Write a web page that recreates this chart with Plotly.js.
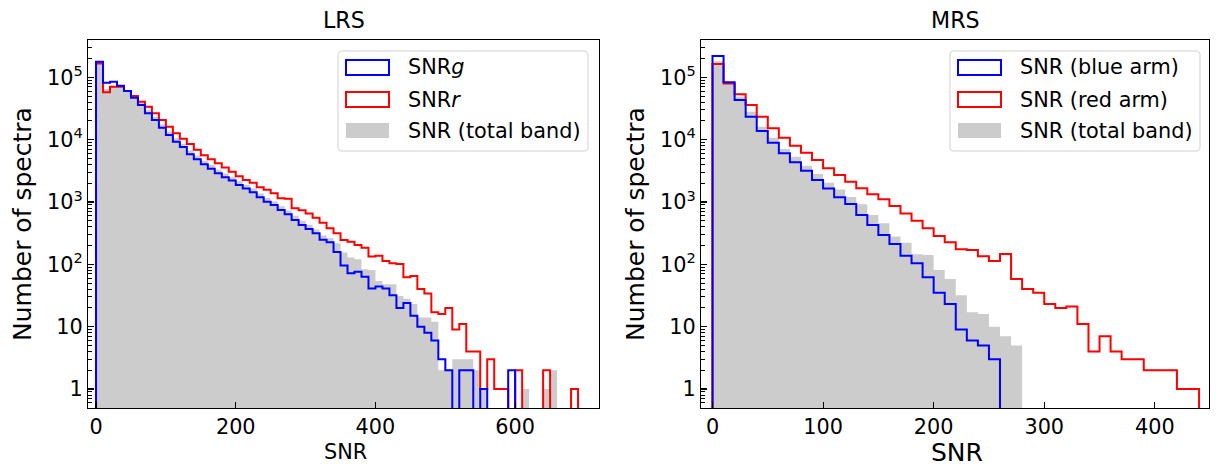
<!DOCTYPE html>
<html>
<head>
<meta charset="utf-8">
<script src="https://cdn.plot.ly/plotly-3.0.1.min.js"></script>
<style>html,body{margin:0;padding:0;background:#fff;}#chart{width:1217px;height:468px;}</style>
</head>
<body>
<div id="chart"></div>
<script>
// ---------- data (counts per 10-SNR bin, starting at SNR = 0) ----------
const binWidth = 10;
const lrsG = [178000, 81900, 84900, 73300, 60200, 47100, 35900, 26400, 20600, 15500,
  11860, 9270, 7600, 5840, 4860, 4030, 3420, 2900, 2500, 2200,
  1870, 1650, 1435, 1195, 1010, 893, 743, 637, 516, 427,
  370, 314, 248, 226, 157, 96, 72, 76, 63, 41,
  44, 41, 32, 20, 24, 15, 10, 8, 6, 3,
  2, 0, 2, 2, 0, 1, 0, 0, 0, 2];
const lrsR = [167000, 57300, 70600, 70600, 60200, 50000, 40600, 33700, 26400, 20600,
  16100, 12600, 10300, 8500, 6900, 5600, 4830, 4160, 3560, 3060,
  2580, 2250, 2030, 1720, 1570, 1375, 1143, 1130, 790, 735,
  656, 556, 466, 380, 314, 245, 231, 204, 185, 133,
  137, 113, 104, 101, 62, 65, 40, 34, 17, 16,
  20, 9, 11, 4, 4, 1, 3, 1, 1, 0,
  2, 0, 0, 0, 2, 0, 0, 0, 1];
const lrsTotal = [165000, 65000, 72000, 72000, 62000, 49000, 38500, 29500, 23000, 17500,
  13500, 10500, 8600, 6700, 5500, 4600, 3900, 3300, 2850, 2500,
  2150, 1880, 1640, 1370, 1160, 1020, 850, 730, 600, 500,
  430, 360, 290, 262, 217, 154, 129, 120, 83, 81,
  54, 48, 48, 31, 28, 23, 14, 14, 12, 2,
  2, 3, 3, 3, 2, 1, 0, 0, 0, 0,
  0, 1, 0, 0, 1, 2];
const mrsBlue = [219000, 82900, 43200, 23300, 13700, 8930, 6020, 4320, 3170, 2250,
  1650, 1186, 927, 618, 427, 295, 212, 137, 104, 62,
  35, 23, 9, 6, 5, 3];
const mrsRed = [163000, 79800, 53200, 35900, 23300, 15200, 10700, 8000, 6170, 4710,
  3460, 2710, 2115, 1653, 1325, 1102, 861, 656, 501, 378,
  284, 225, 174, 170, 135, 113, 146, 58, 40, 35,
  23, 20, 21, 11, 4, 7, 4, 3, 3, 2,
  2, 2, 1, 1];
const mrsTotal = [180000, 79000, 48800, 28000, 16100, 10700, 7070, 5320, 3820, 2810,
  2040, 1590, 1200, 916, 618, 454, 280, 222, 145, 141,
  81, 58, 32, 17, 16, 10, 7, 5];

const lrsTicks = [0, 200, 400, 600];
const mrsTicks = [0, 100, 200, 300, 400];
const yTickVals = [1, 10, 100, 1000, 10000, 100000];
const yTickText = ['1', '10', '10<sup>2</sup>', '10<sup>3</sup>', '10<sup>4</sup>', '10<sup>5</sup>'];
const lrsLabels = ['SNR<i>g</i>', 'SNR<i>r</i>', 'SNR (total band)'];
const mrsLabels = ['SNR (blue arm)', 'SNR (red arm)', 'SNR (total band)'];

// ---------- helpers ----------
const FLOOR = 0.1; // empty bins drop below the visible log range
function stepXY(counts) {
  const x = [0], y = [FLOOR];
  counts.forEach((c, i) => { x.push(i * binWidth); y.push(c > 0 ? c : FLOOR); });
  x.push(counts.length * binWidth); y.push(FLOOR);
  return {x, y};
}
function fillTrace(counts, xa, ya) {
  const s = stepXY(counts);
  return {x: s.x, y: s.y, xaxis: xa, yaxis: ya, type: 'scatter', mode: 'lines',
    line: {shape: 'hv', width: 0, color: '#cccccc'}, fill: 'toself', fillcolor: '#cccccc',
    hoverinfo: 'skip', showlegend: false};
}
function stepTrace(counts, color, xa, ya) {
  const s = stepXY(counts);
  return {x: s.x, y: s.y, xaxis: xa, yaxis: ya, type: 'scatter', mode: 'lines',
    line: {shape: 'hv', width: 2, color: color}, hoverinfo: 'skip', showlegend: false};
}

const data = [
  fillTrace(lrsTotal, 'x', 'y'),
  stepTrace(lrsR, '#ff0000', 'x', 'y'),
  stepTrace(lrsG, '#0000ff', 'x', 'y'),
  fillTrace(mrsTotal, 'x2', 'y2'),
  stepTrace(mrsRed, '#ff0000', 'x2', 'y2'),
  stepTrace(mrsBlue, '#0000ff', 'x2', 'y2')
];

// pixel -> paper conversion (plot area spans x 88..1209, y 40..408)
const L = 88, W = 1121, T = 40, H = 368;
const px = X => (X - L) / W;
const py = Y => (T + H - Y) / H;
const P = (X, Y) => px(X).toFixed(5) + ',' + py(Y).toFixed(5);

function roundBox(x0, y0, x1, y1, r) {
  const d = 'M' + P(x0 + r, y0) + ' L' + P(x1 - r, y0) + ' Q' + P(x1, y0) + ' ' + P(x1, y0 + r) +
    ' L' + P(x1, y1 - r) + ' Q' + P(x1, y1) + ' ' + P(x1 - r, y1) +
    ' L' + P(x0 + r, y1) + ' Q' + P(x0, y1) + ' ' + P(x0, y1 - r) +
    ' L' + P(x0, y0 + r) + ' Q' + P(x0, y0) + ' ' + P(x0 + r, y0) + ' Z';
  return {type: 'path', xref: 'paper', yref: 'paper', path: d, layer: 'above',
    fillcolor: 'rgba(255,255,255,0.8)', line: {color: '#d0d0d0', width: 1}};
}
function rectPx(x0, y0, x1, y1, lineColor, fill) {
  return {type: 'rect', xref: 'paper', yref: 'paper', layer: 'above',
    x0: px(x0), x1: px(x1), y0: py(y1), y1: py(y0),
    fillcolor: fill, line: {color: lineColor, width: lineColor ? 2 : 0}};
}
const shapes = [], annotations = [];
function legend(bx, labels) {
  shapes.push(roundBox(bx, 51, bx + 250, 151, 4));
  const rowsY = [67.5, 99.5, 130.5];
  shapes.push(rectPx(bx + 8, rowsY[0] - 7.5, bx + 51, rowsY[0] + 7.5, '#0000ff', 'rgba(0,0,0,0)'));
  shapes.push(rectPx(bx + 8, rowsY[1] - 7.5, bx + 51, rowsY[1] + 7.5, '#ff0000', 'rgba(0,0,0,0)'));
  shapes.push(rectPx(bx + 8, rowsY[2] - 7.5, bx + 51, rowsY[2] + 7.5, null, '#cccccc'));
  labels.forEach((t, i) => annotations.push({text: t, xref: 'paper', yref: 'paper',
    x: px(bx + 68), y: py(rowsY[i]), xanchor: 'left', yanchor: 'middle', showarrow: false,
    font: {size: 20.8, color: '#000'}}));
}
legend(338, lrsLabels);
legend(950, mrsLabels);

function label(text, X, Y, size, angle) {
  annotations.push({text: text, xref: 'paper', yref: 'paper', x: px(X), y: py(Y),
    xanchor: 'center', yanchor: 'middle', showarrow: false, textangle: angle || 0,
    font: {size: size, color: '#000'}});
}
label('LRS', 343.5, 20, 22.2);
label('MRS', 955, 20, 22.2);
label('Number of spectra', 22, 224, 25, -90);
label('Number of spectra', 635, 224, 25, -90);
label('SNR', 345, 452, 20.8);
label('SNR', 957, 452, 25);

const minorVals = [];
for (let e = -1; e <= 6; e++) for (let m = 2; m <= 9; m++) minorVals.push(m * Math.pow(10, e));

const common = {showline: true, mirror: true, linecolor: '#000', linewidth: 1.1,
  ticks: 'inside', ticklen: 6, tickwidth: 1.1, tickcolor: '#000', showgrid: false,
  zeroline: false, tickfont: {size: 20.8, color: '#000'}};
function yaxis(anchor) {
  return Object.assign({}, common, {type: 'log', range: [-0.305, 5.598], anchor: anchor,
    tickmode: 'array', tickvals: yTickVals, ticktext: yTickText,
    minor: {tickmode: 'array', tickvals: minorVals, ticks: 'inside', ticklen: 3.5,
      tickwidth: 1, tickcolor: '#000', showgrid: false}});
}

const layout = {
  width: 1217, height: 468,
  margin: {l: L, r: 1217 - L - W, t: T, b: 468 - T - H, pad: 0},
  paper_bgcolor: '#fff', plot_bgcolor: '#fff',
  font: {family: 'DejaVu Sans, sans-serif', size: 20.8, color: '#000'},
  showlegend: false,
  xaxis: Object.assign({}, common, {domain: [0, px(599)], range: [-11.5, 720], anchor: 'y',
    tickmode: 'array', tickvals: lrsTicks}),
  yaxis: yaxis('x'),
  xaxis2: Object.assign({}, common, {domain: [px(701), 1], range: [-10.4, 449], anchor: 'y2',
    tickmode: 'array', tickvals: mrsTicks}),
  yaxis2: yaxis('x2'),
  shapes: shapes,
  annotations: annotations
};

Plotly.newPlot('chart', data, layout, {displayModeBar: false, staticPlot: true});
</script>
</body>
</html>
